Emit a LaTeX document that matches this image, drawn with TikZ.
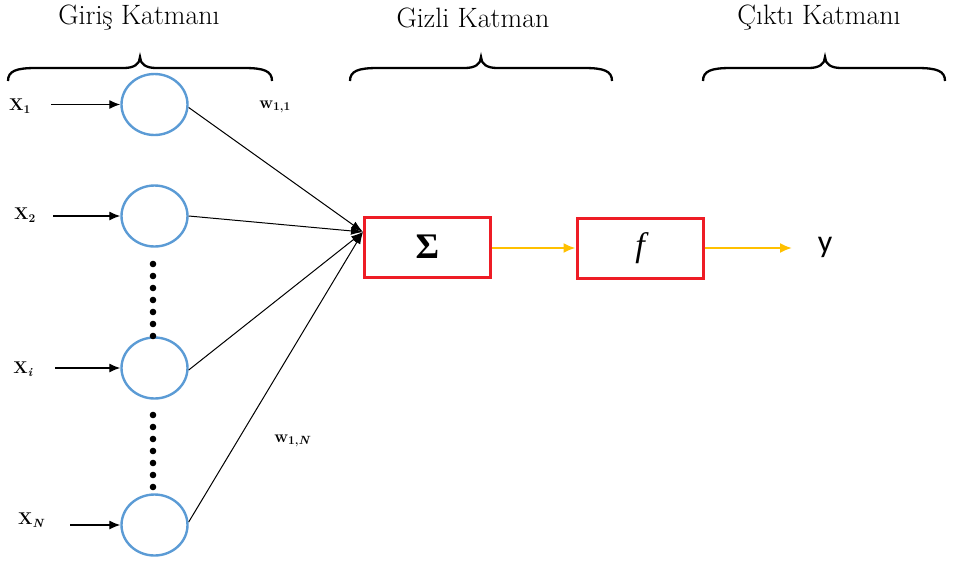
\documentclass[tikz,border=0pt]{standalone}
\usepackage{fontspec}
\newfontfamily\outfont{Carlito}
\newfontfamily\sigfont{Liberation Serif}
\usetikzlibrary{shapes.geometric,arrows.meta}
\definecolor{nblue}{HTML}{5B9BD5}
\definecolor{bred}{HTML}{EE1C25}
\definecolor{ayel}{HTML}{FFC000}
\tikzset{
  neuron/.style={draw=nblue,line width=2.4pt,ellipse,minimum width=66pt,minimum height=61pt,inner sep=0pt},
  blk/.style={draw=bred,line width=3pt,minimum width=126pt,minimum height=60pt,inner sep=0pt},
  inarr/.style={line width=1.3pt,-{Latex[length=11pt,width=9pt]}},
  warr/.style={line width=1pt,-{Latex[length=12pt,width=8pt]}},
  yarr/.style={draw=ayel,line width=2pt,-{Latex[length=12pt,width=10pt]}},
  head/.style={font=\fontsize{28}{32}\selectfont},
  xlab/.style={font=\bfseries\fontsize{17}{19}\selectfont},
  wlab/.style={font=\bfseries\fontsize{17}{19}\selectfont},
  brc/.style={line width=2.3pt}
}
\begin{document}
\begin{tikzpicture}[x=1pt,y=-1pt]
\useasboundingbox (0,0) rectangle (955,560);
% headings
\node[head] (h1) at (139,18) {Giriş Katmanı};
\node[head] (h2) at (473,18) {Gizli Katman};
\node[head] (h3) at (819,18) {Çıktı Katmanı};
% braces
\foreach \a/\c/\b in {8/140/272, 350/481/612, 703/825/945}{
  \draw[brc] (\a,81) .. controls (\a,71) and (\a+8,68) .. (\a+28,68) -- (\c-16,68)
    .. controls (\c-6,68) and (\c,64) .. (\c,57)
    .. controls (\c,64) and (\c+6,68) .. (\c+16,68) -- (\b-28,68)
    .. controls (\b-8,68) and (\b,71) .. (\b,81);
}
% neurons
\node[neuron] (n1) at (154.5,104.5) {};
\node[neuron] (n2) at (154.5,216) {};
\node[neuron] (n3) at (154.5,368) {};
\node[neuron] (n4) at (154.5,525) {};
% dots
\foreach \y in {264,276,...,336}{\fill (153,\y) circle (3.3);}
\foreach \y in {415,427,...,489}{\fill (153,\y) circle (3.3);}
% input labels and arrows
\node[xlab] (x1) at (20,106) {X\textsubscript{1}};
\node[xlab] (x2) at (25,215) {X\textsubscript{2}};
\node[xlab] (x3) at (23,369) {X\textsubscript{\itshape i}};
\node[xlab] (x4) at (31,520) {X\textsubscript{\itshape N}};
\coordinate (s1) at (51,104.5);
\coordinate (s2) at (53,216);
\coordinate (s3) at (55,368);
\coordinate (s4) at (70,525);
\draw[inarr] (s1) -- (n1.west);
\draw[inarr] (s2) -- (n2.west);
\draw[inarr] (s3) -- (n3.west);
\draw[inarr] (s4) -- (n4.west);
% blocks
\node[blk] (sum) at (427.5,247) {\sigfont\bfseries\fontsize{36}{40}\selectfont Σ};
\node[blk] (f) at (640,248) {\sigfont\itshape\fontsize{34}{38}\selectfont f};
\coordinate (cv) at (363,232);
\draw[warr] ([yshift=-3pt]n1.east) -- (cv);
\draw[warr] (n2.east) -- (cv);
\draw[warr] ([yshift=-2pt]n3.east) -- (cv);
\draw[warr] ([yshift=3pt]n4.east) -- (cv);
\node[wlab] (w11) at (275,107) {w\textsubscript{1,1}};
\node[wlab] (w1n) at (292,441) {w\textsubscript{1,\itshape N}};
% output
\node[font=\outfont\fontsize{32}{36}\selectfont] (y) at (825,247) {y};
\draw[yarr] (sum.east |- 0,248) -- (f.west |- 0,248);
\coordinate (ye) at (792,248);
\draw[yarr] (f.east |- 0,248) -- (ye);
\end{tikzpicture}
\end{document}
